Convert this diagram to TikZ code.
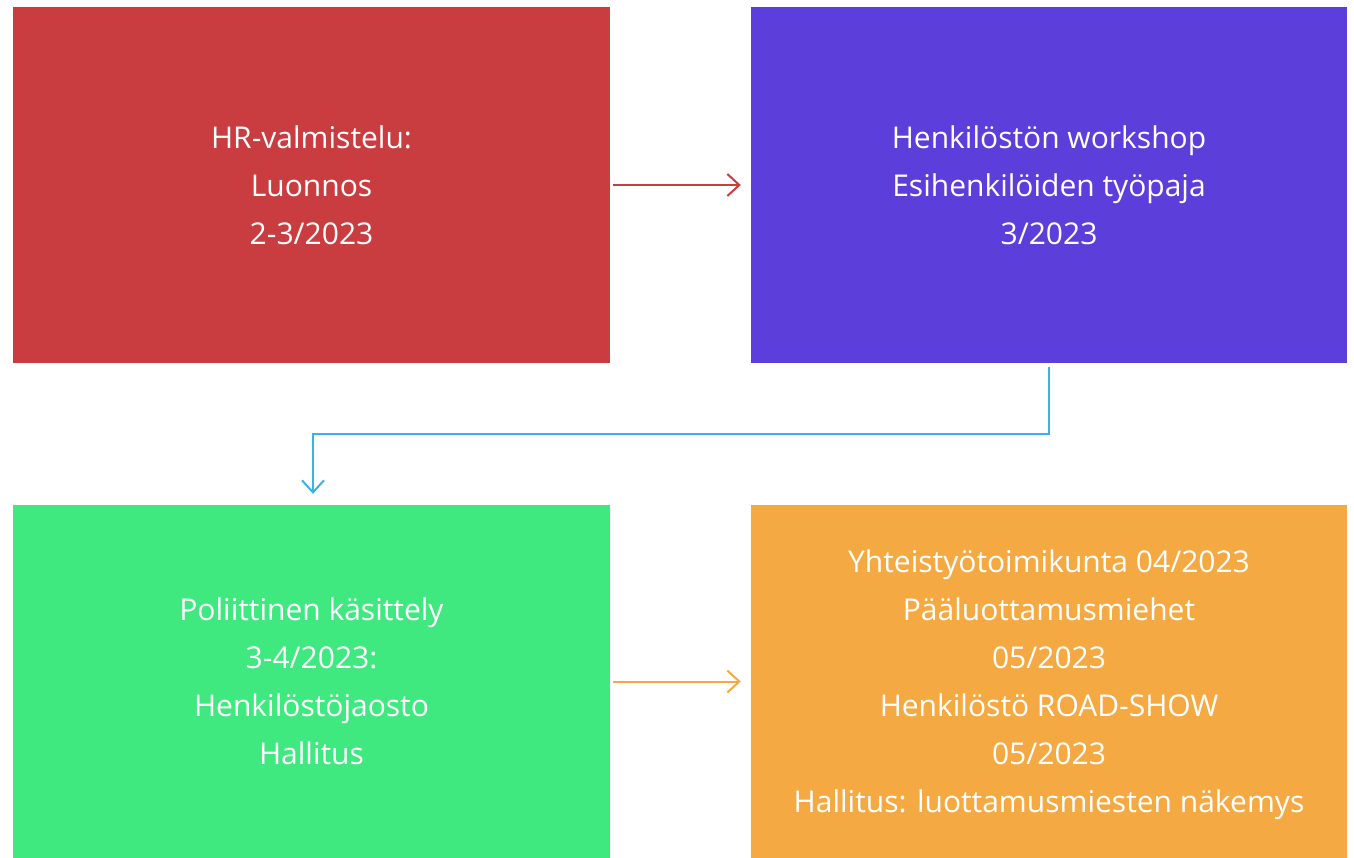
\documentclass[tikz,border=0pt]{standalone}
\usepackage{fontspec}
\setmainfont{Open Sans}
\usetikzlibrary{arrows.meta}
\definecolor{cred}{RGB}{201,61,64}
\definecolor{cpurple}{RGB}{92,63,219}
\definecolor{cgreen}{RGB}{63,233,127}
\definecolor{corange}{RGB}{245,169,66}
\definecolor{cblue}{RGB}{59,178,228}
\tikzset{
  stagebox/.style={fill=#1, draw=none, inner sep=0pt, text=white, align=center,
    font=\fontsize{30pt}{48pt}\selectfont},
  flowarrow/.style={draw=#1, line width=2pt, -{Straight Barb[length=12pt,width=22pt,line width=2pt]}}
}
\begin{document}
\begin{tikzpicture}[x=1pt,y=-1pt]
\useasboundingbox (0,0) rectangle (1354,858);
\node[stagebox=cred, minimum width=597pt, minimum height=356pt] (hr) at (311.5,185)
  {HR-valmistelu:\\Luonnos\\2-3/2023};
\node[stagebox=cpurple, minimum width=596pt, minimum height=356pt] (ws) at (1049,185)
  {Henkilöstön workshop\\Esihenkilöiden työpaja\\3/2023};
\node[stagebox=cgreen, minimum width=597pt, minimum height=353pt] (pol) at (311.5,681.5)
  {Poliittinen käsittely\\3-4/2023:\\Henkilöstöjaosto\\Hallitus};
\node[stagebox=corange, minimum width=596pt, minimum height=353pt, text depth=0pt] (yt) at (1049,681.5)
  {Yhteistyötoimikunta 04/2023\\Pääluottamusmiehet\\05/2023\\Henkilöstö ROAD-SHOW\\05/2023\\Hallitus: luottamusmiesten näkemys};
\coordinate (bend1) at (1049,434);
\coordinate (bend2) at (313,434);
\draw[flowarrow=cred, shorten <=3pt, shorten >=10pt] (hr.east) -- (ws.west);
\draw[flowarrow=corange, shorten <=3pt, shorten >=10pt] (pol.east) -- (yt.west);
\draw[flowarrow=cblue, line width=2.5pt, shorten <=4pt, shorten >=11pt] (ws.south) -- (bend1) -- (bend2) -- (bend2 |- pol.north);
\end{tikzpicture}
\end{document}
